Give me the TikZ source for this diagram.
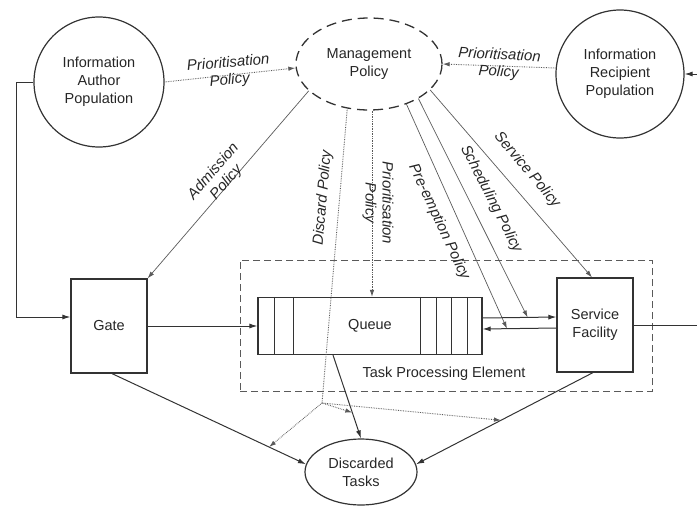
\documentclass[tikz,border=0pt]{standalone}
\usepackage{fontspec}
\setmainfont{Liberation Sans}
\usetikzlibrary{arrows.meta, shapes.geometric}

\definecolor{lineGray}{HTML}{333333}
\definecolor{polGray}{HTML}{5a5a5a}

\begin{document}
\begin{tikzpicture}[x=1pt, y=-1pt,
		every node/.style={font=\fontsize{14.5}{18}\selectfont, text=black!85},
		pop/.style={circle, draw=lineGray, line width=1.2pt, minimum size=130pt, align=center, inner sep=0pt},
		box/.style={rectangle, draw=lineGray, line width=1.2pt, minimum width=76pt, minimum height=94pt, align=center},
		flow/.style={draw=lineGray, line width=1pt, -{Latex[length=8pt,width=5pt]}},
		pol/.style={draw=polGray, line width=0.7pt, -{Latex[length=7pt,width=4.5pt]}},
		dpol/.style={pol, densely dotted, line width=0.9pt},
		lbl/.style={font=\fontsize{15}{17}\selectfont\itshape, align=center, inner sep=0pt}]
		\useasboundingbox (0,0) rectangle (697,509);

		 \node[pop] (author) at (99,82) {Information\\Author\\Population};
		 \node[pop, minimum size=128pt] (recip) at (620,74) {Information\\Recipient\\Population};
		 \node[ellipse, draw=lineGray, line width=1.3pt, dash pattern=on 10pt off 6pt, minimum width=146pt, minimum height=92pt, align=center, inner sep=2pt] (mgmt) at (369,64) {Management\\Policy};
		 \node[draw=polGray, line width=1pt, dash pattern=on 7pt off 4pt, minimum width=412pt, minimum height=131pt] (tpe) at (446,325.5) {};
		 \node (tpelbl) at (444,374) {Task Processing Element};
		 \node[box] (gate) at (109,326) {Gate};
		 \node[rectangle, draw=lineGray, line width=1.2pt, minimum width=224pt, minimum height=57pt] (queue) at (370,326) {Queue};
		 \foreach \dx in {17,36}
		 {\draw[lineGray, line width=1pt] ([xshift=\dx pt]queue.north west) -- ([xshift=\dx pt]queue.south west);}
		 \foreach \dx in {15,31,46,62}
		 {\draw[lineGray, line width=1pt] ([xshift=-\dx pt]queue.north east) -- ([xshift=-\dx pt]queue.south east);}
		 \node[box] (service) at (595,325) {Service\\Facility};
		 \node[ellipse, draw=lineGray, line width=1.2pt, minimum width=112pt, minimum height=66pt, align=center, inner sep=2pt] (discarded) at (361,472) {Discarded\\Tasks};

		 % task flow
		 \draw[flow] (author.west) -- ++(-17,0) |- ([yshift=9pt]gate.west);
		 \draw[flow] (gate.east) -- (queue.west);
		 \draw[flow] ([yshift=8pt]queue.east) -- coordinate[pos=0.61] (sch) ([yshift=8pt]service.west);
		 \draw[flow] ([yshift=-3pt]service.west) -- coordinate[pos=0.67] (pre) ([yshift=-3pt]queue.east);
		 \coordinate (outR) at (697,325);
		 \draw[lineGray, line width=1pt] (service.east) -- (outR);
		 \coordinate (inR) at (697,74);
		 \draw[flow] (inR) -- (recip.east);
		 \draw[flow] ([xshift=3pt]gate.south) -- coordinate[pos=0.81] (gd) (discarded.172);
		 \draw[flow] ([xshift=-37pt]queue.south) -- coordinate[pos=0.69] (qd) (discarded.north);
		 \draw[flow] ([xshift=-2pt]service.south) -- coordinate[pos=0.52] (sd) (discarded.8);

		 % policies
		 \draw[dpol] (author.east) -- ([yshift=-4pt]mgmt.west);
		 \draw[dpol] ([yshift=6pt]recip.west) -- (mgmt.east);
		 \draw[pol] (mgmt.204) -- (gate.north east);
		 \coordinate (dsc) at (322,403);
		 \draw[dpol, -] (mgmt.244) -- (dsc);
		 \foreach \t in {gd, qd, sd}
		 {\draw[dpol] (dsc) -- (\t);}
		 \draw[dpol] ([xshift=3pt]mgmt.south) -- ([xshift=2pt]queue.north);
		 \draw[pol] (mgmt.313) -- (pre);
		 \draw[pol] (mgmt.325) -- (sch);
		 \draw[pol] (mgmt.337) -- ([xshift=-3pt]service.north);

		 \node[lbl, rotate=5] (prioAlbl) at (229,72) {Prioritisation\\Policy};
		 \node[lbl, rotate=-3] (prioRlbl) at (499,64) {Prioritisation\\Policy};
		 \node[lbl, rotate=49] (admlbl) at (220,177) {Admission\\Policy};
		 \node[lbl, rotate=85] (dsclbl) at (323,198) {Discard Policy};
		 \node[lbl, rotate=-90] (prioQlbl) at (378,203) {Prioritisation\\Policy};
		 \node[lbl, rotate=-65] (prelbl) at (439,222) {Pre-emption Policy};
		 \node[lbl, rotate=-63] (schlbl) at (491,199) {Scheduling Policy};
		 \node[lbl, rotate=-50] (srvlbl) at (527,170) {Service Policy};
	\end{tikzpicture}
\end{document}
